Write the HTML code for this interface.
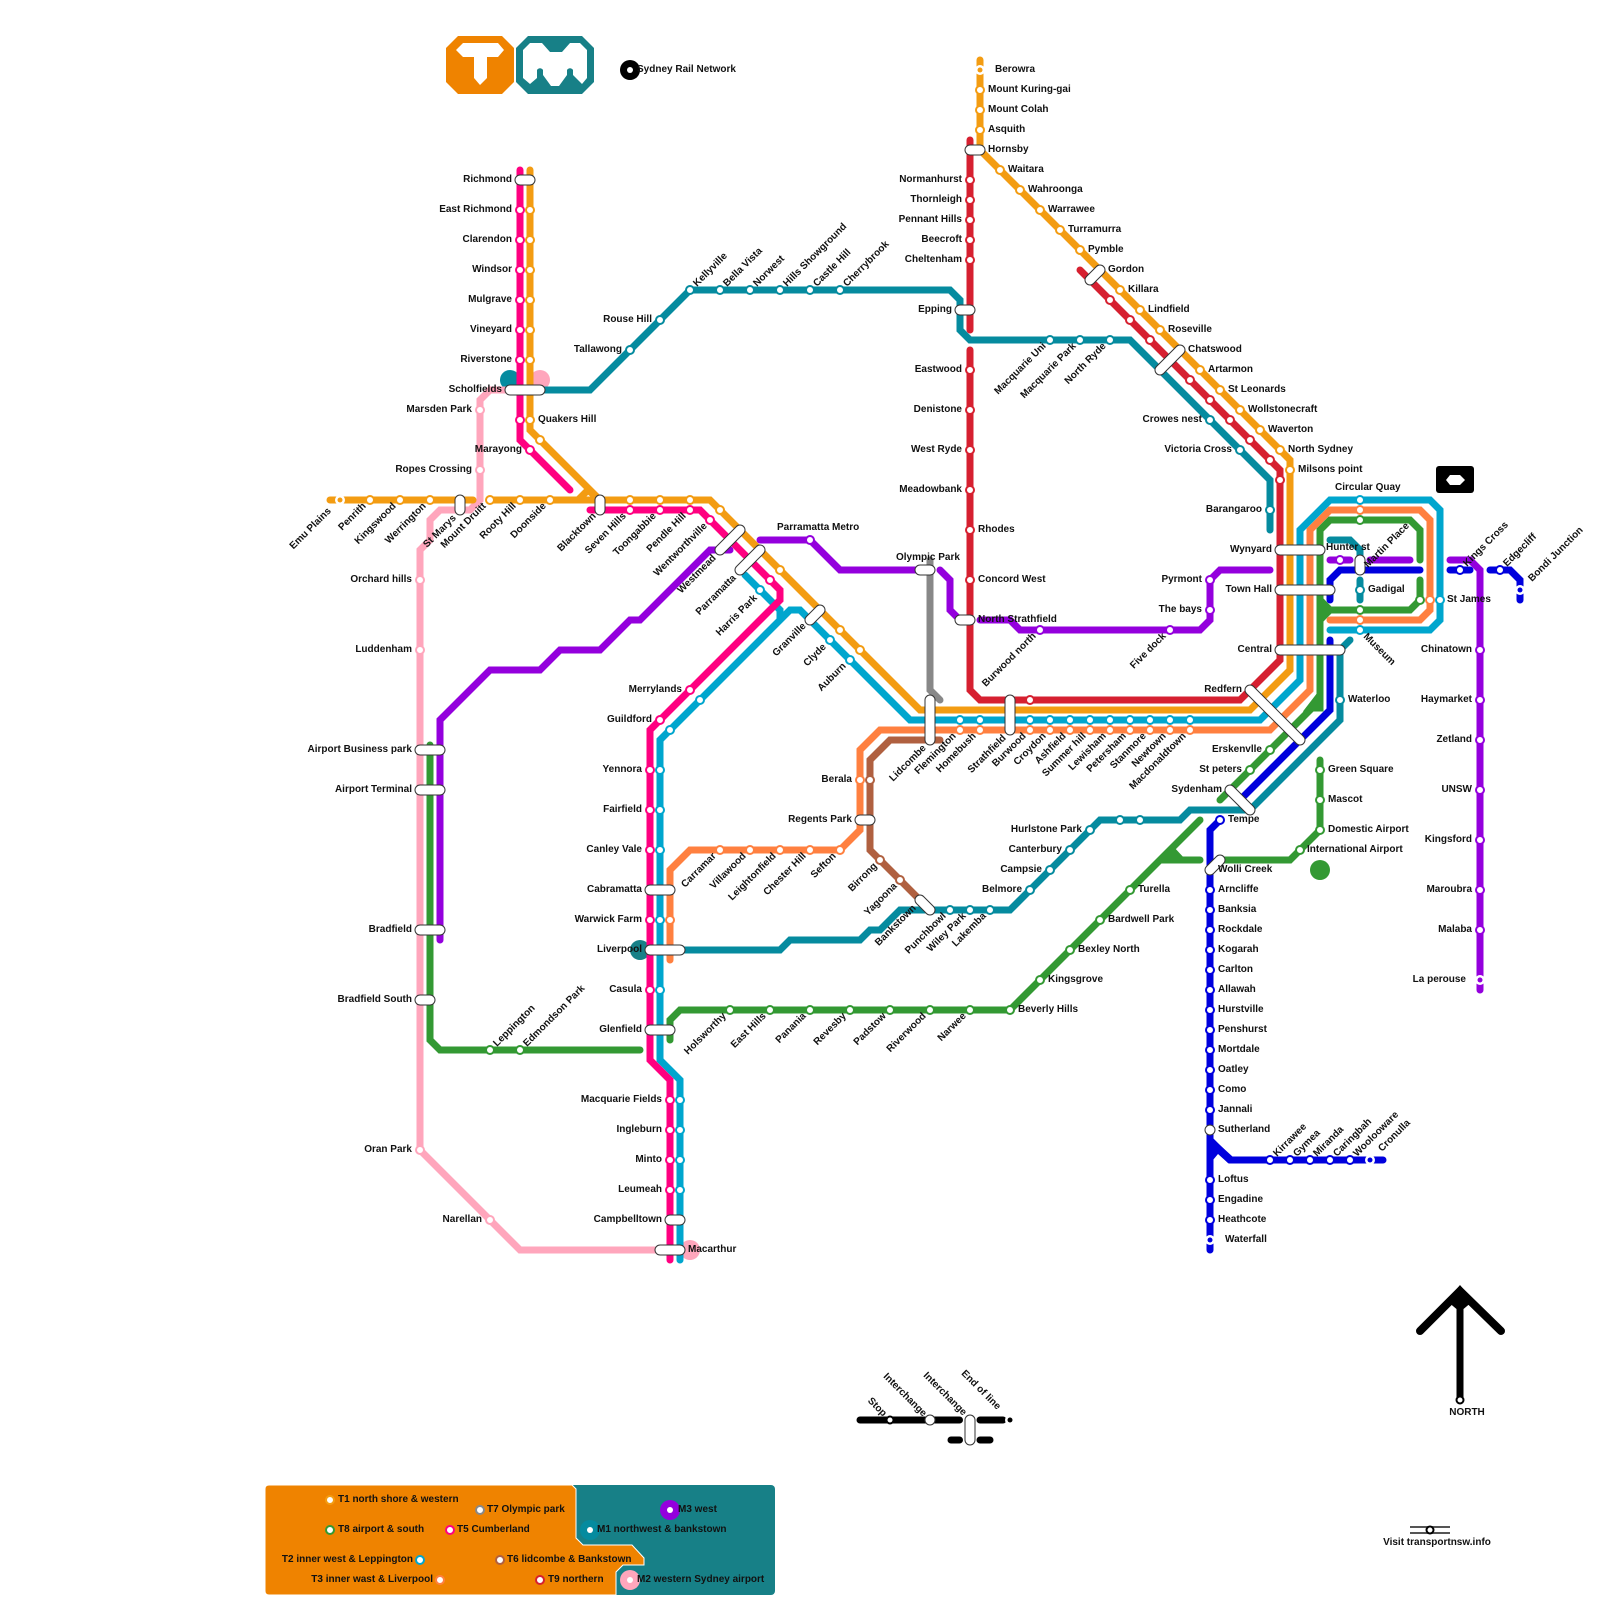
<!DOCTYPE html>
<html><head><meta charset="utf-8"><title>Sydney Rail Network</title>
<style>
html,body{margin:0;padding:0;background:#fff}
svg{display:block}
text{font:700 10px "Liberation Sans",sans-serif;fill:#111}
.l path{fill:none;stroke-width:7;stroke-linecap:round;stroke-linejoin:miter}
.s circle{r:4px;fill:#fff;stroke-width:2}
.e circle{r:5px;fill:#fff;stroke-width:0}
.d circle{r:2.5px;stroke-width:0}
</style></head><body>
<svg width="1600" height="1600" viewBox="0 0 1600 1600" xmlns="http://www.w3.org/2000/svg">
<rect width="1600" height="1600" fill="#fff"/>
<!-- logos -->
<path d="M458,36H502L514,48V82L502,94H458L446,82V48Z" fill="#ef8300"/>
<path d="M456,50L463,43H498L504,50L498,57H487V78L480,85L474,78V57H463Z" fill="#fff"/>
<path d="M528,36H582L594,48V82L582,94H528L516,82V48Z" fill="#178087"/>
<path d="M523,50L530,43H542L550,52H562L570,43H580L587,50V78L582,84L573,75V70A3.5,3.5 0 0 0 567,70V75L559,86H551L543,75V70A3.5,3.5 0 0 0 537,70V78L530,84L523,78Z" fill="#fff"/>
<circle cx="630" cy="70" r="10" fill="#000"/><circle cx="630" cy="70" r="3" fill="#fff"/>
<text x="637" y="72">Sydney Rail Network</text>
<rect x="1436" y="466" width="38" height="27" rx="3" fill="#000"/>
<path d="M1446,480L1450,475H1460L1465,480L1460,485H1450Z" fill="#fff"/>
<!-- big dots -->
<circle cx="510" cy="380" r="10" fill="#058b9f"/>
<circle cx="540" cy="380" r="10" fill="#ffa6bc"/>
<circle cx="640" cy="950" r="10" fill="#178087"/>
<circle cx="690" cy="1250" r="10" fill="#ffa6bc"/>
<circle cx="1320" cy="870" r="10" fill="#339933"/>
<!-- lines -->
<g class="l">
<g stroke="#ffa6bc"><path d="M510,390H490L480,400V500L470,510H440L430,520V540L420,550V1150L520,1250H680"/></g>
<g stroke="#888888"><path d="M930,560V690L940,700"/></g>
<g stroke="#9400dd">
<path d="M440,940V720L490,670H540L560,650H600L630,620H640L710,550H730"/>
<path d="M760,540H810L840,570H920"/><path d="M940,570L950,580V610L960,620"/>
<path d="M980,620H1010L1020,630H1200L1210,620V580L1220,570H1270"/>
<path d="M1330,560H1350"/><path d="M1370,560H1410"/><path d="M1450,560H1470L1480,570V990"/>
</g>
<g stroke="#339933">
<path d="M430,745V1040L440,1050H640"/>
<path d="M670,1040V1020L680,1010H1010L1200,820"/>
<path d="M1162,860H1200"/>
<path d="M1220,860H1290L1320,830V760"/>
<path d="M1420,560V530L1410,520H1330L1320,530V700L1220,800"/>
<path d="M1420,580V600L1410,610H1320"/>
<path d="M1320,600L1330,610L1320,620Z" fill="#339933"/>
<path d="M1320,695V708H1310Z" fill="#339933"/>
</g>
<g stroke="#058b9f">
<path d="M540,390H590L690,290H950L960,300V330L970,340H1130L1270,480V530"/>
<path d="M680,950H780L790,940H860L870,930H880L900,910H1010L1100,820H1180L1190,810H1250L1340,720V650L1350,640"/>
<path d="M1330,540H1350L1360,550V560"/><path d="M1360,580V600"/>
</g>
<g stroke="#0000dd">
<path d="M1330,600V580L1340,570H1420"/><path d="M1450,570H1470"/>
<path d="M1490,570H1510L1520,580V600"/>
<path d="M1330,640V710L1240,800"/>
<path d="M1220,820L1210,830V1250"/>
<path d="M1210,1140L1230,1160H1383"/>
</g>
<g stroke="#b06040"><path d="M940,740H890L870,760V850L925,905"/></g>
<g stroke="#ff8040"><path d="M670,960V870L690,850H840L860,830V750L880,730H1270L1310,690V530L1330,510H1420L1430,520V610L1420,620H1330"/></g>
<g stroke="#00a6ce">
<path d="M680,1260V1080L660,1060V740L790,610H800L910,720H1260L1300,680V530L1330,500H1430L1440,510V620L1430,630H1330"/>
<path d="M745,575L780,610V618"/>
</g>
<g stroke="#d62030">
<path d="M970,140V330"/><path d="M970,350V690L980,700H1240L1280,660V470L1080,270"/>
</g>
<g stroke="#f39c12">
<path d="M330,500H473"/>
<path d="M490,500H710L920,710H1250L1290,670V460L980,150V60"/>
<path d="M530,170V430L600,500"/>
<path d="M588,490L600,500H578Z" fill="#f39c12"/>
</g>
<g stroke="#ff0080">
<path d="M520,170V440L570,490"/>
<path d="M590,510H700L780,590V600L650,730V1060L670,1080V1260"/>
</g>
</g>
<!-- junction fills -->
<path d="M1165,856L1172,845L1186,860V863H1160Z" fill="#339933"/>
<path d="M1210,1136L1233,1157V1163H1228L1218,1154L1213,1160H1208V1136Z" fill="#0000dd"/>
<!-- stations -->
<g class="s">
<g stroke="#ffa6bc"><circle cx="480" cy="410"/><circle cx="480" cy="470"/><circle cx="420" cy="580"/><circle cx="420" cy="650"/><circle cx="420" cy="1150"/><circle cx="490" cy="1220"/></g>
<g stroke="#ff0080"><circle cx="520" cy="210"/><circle cx="520" cy="240"/><circle cx="520" cy="270"/><circle cx="520" cy="300"/><circle cx="520" cy="330"/><circle cx="520" cy="360"/><circle cx="520" cy="420"/><circle cx="530" cy="450"/><circle cx="630" cy="510"/><circle cx="660" cy="510"/><circle cx="690" cy="510"/><circle cx="710" cy="520"/><circle cx="770" cy="580"/><circle cx="690" cy="690"/><circle cx="660" cy="720"/><circle cx="650" cy="770"/><circle cx="650" cy="810"/><circle cx="650" cy="850"/><circle cx="650" cy="920"/><circle cx="650" cy="990"/><circle cx="670" cy="1100"/><circle cx="670" cy="1130"/><circle cx="670" cy="1160"/><circle cx="670" cy="1190"/></g>
<g stroke="#f39c12"><circle cx="530" cy="210"/><circle cx="530" cy="240"/><circle cx="530" cy="270"/><circle cx="530" cy="300"/><circle cx="530" cy="330"/><circle cx="530" cy="360"/><circle cx="530" cy="420"/><circle cx="540" cy="440"/><circle cx="370" cy="500"/><circle cx="400" cy="500"/><circle cx="430" cy="500"/><circle cx="490" cy="500"/><circle cx="520" cy="500"/><circle cx="550" cy="500"/><circle cx="630" cy="500"/><circle cx="660" cy="500"/><circle cx="690" cy="500"/><circle cx="720" cy="510"/><circle cx="780" cy="570"/><circle cx="840" cy="630"/><circle cx="860" cy="650"/><circle cx="980" cy="90"/><circle cx="980" cy="110"/><circle cx="980" cy="130"/><circle cx="1000" cy="170"/><circle cx="1020" cy="190"/><circle cx="1040" cy="210"/><circle cx="1060" cy="230"/><circle cx="1080" cy="250"/><circle cx="1120" cy="290"/><circle cx="1140" cy="310"/><circle cx="1160" cy="330"/><circle cx="1200" cy="370"/><circle cx="1220" cy="390"/><circle cx="1240" cy="410"/><circle cx="1260" cy="430"/><circle cx="1280" cy="450"/><circle cx="1290" cy="470"/></g>
<g stroke="#d62030"><circle cx="970" cy="180"/><circle cx="970" cy="200"/><circle cx="970" cy="220"/><circle cx="970" cy="240"/><circle cx="970" cy="260"/><circle cx="970" cy="370"/><circle cx="970" cy="410"/><circle cx="970" cy="450"/><circle cx="970" cy="490"/><circle cx="970" cy="530"/><circle cx="970" cy="580"/><circle cx="1030" cy="700"/><circle cx="1110" cy="300"/><circle cx="1130" cy="320"/><circle cx="1150" cy="340"/><circle cx="1190" cy="380"/><circle cx="1210" cy="400"/><circle cx="1230" cy="420"/><circle cx="1250" cy="440"/><circle cx="1270" cy="460"/><circle cx="1280" cy="480"/></g>
<g stroke="#00a6ce"><circle cx="700" cy="700"/><circle cx="670" cy="730"/><circle cx="660" cy="770"/><circle cx="660" cy="810"/><circle cx="660" cy="850"/><circle cx="660" cy="920"/><circle cx="660" cy="990"/><circle cx="680" cy="1100"/><circle cx="680" cy="1130"/><circle cx="680" cy="1160"/><circle cx="680" cy="1190"/><circle cx="760" cy="590"/><circle cx="830" cy="640"/><circle cx="850" cy="660"/><circle cx="960" cy="720"/><circle cx="980" cy="720"/><circle cx="1030" cy="720"/><circle cx="1050" cy="720"/><circle cx="1070" cy="720"/><circle cx="1090" cy="720"/><circle cx="1110" cy="720"/><circle cx="1130" cy="720"/><circle cx="1150" cy="720"/><circle cx="1170" cy="720"/><circle cx="1190" cy="720"/><circle cx="1360" cy="500"/><circle cx="1360" cy="630"/><circle cx="1440" cy="600"/></g>
<g stroke="#ff8040"><circle cx="720" cy="850"/><circle cx="750" cy="850"/><circle cx="780" cy="850"/><circle cx="810" cy="850"/><circle cx="840" cy="850"/><circle cx="860" cy="780"/><circle cx="670" cy="920"/><circle cx="960" cy="730"/><circle cx="980" cy="730"/><circle cx="1030" cy="730"/><circle cx="1050" cy="730"/><circle cx="1070" cy="730"/><circle cx="1090" cy="730"/><circle cx="1110" cy="730"/><circle cx="1130" cy="730"/><circle cx="1150" cy="730"/><circle cx="1170" cy="730"/><circle cx="1190" cy="730"/><circle cx="1360" cy="510"/><circle cx="1360" cy="620"/><circle cx="1430" cy="600"/></g>
<g stroke="#b06040"><circle cx="870" cy="780"/><circle cx="880" cy="860"/><circle cx="900" cy="880"/></g>
<g stroke="#339933"><circle cx="1360" cy="520"/><circle cx="1360" cy="610"/><circle cx="1420" cy="600"/><circle cx="1270" cy="750"/><circle cx="1250" cy="770"/><circle cx="1320" cy="770"/><circle cx="1320" cy="800"/><circle cx="1320" cy="830"/><circle cx="1300" cy="850"/><circle cx="1130" cy="890"/><circle cx="1100" cy="920"/><circle cx="1070" cy="950"/><circle cx="1040" cy="980"/><circle cx="1010" cy="1010"/><circle cx="970" cy="1010"/><circle cx="930" cy="1010"/><circle cx="890" cy="1010"/><circle cx="850" cy="1010"/><circle cx="810" cy="1010"/><circle cx="770" cy="1010"/><circle cx="730" cy="1010"/><circle cx="490" cy="1050"/><circle cx="520" cy="1050"/></g>
<g stroke="#9400dd"><circle cx="810" cy="540"/><circle cx="1040" cy="630"/><circle cx="1170" cy="630"/><circle cx="1210" cy="610"/><circle cx="1210" cy="580"/><circle cx="1340" cy="560"/><circle cx="1480" cy="650"/><circle cx="1480" cy="700"/><circle cx="1480" cy="740"/><circle cx="1480" cy="790"/><circle cx="1480" cy="840"/><circle cx="1480" cy="890"/><circle cx="1480" cy="930"/></g>
<g stroke="#0000dd"><circle cx="1460" cy="570"/><circle cx="1500" cy="570"/><circle cx="1220" cy="820"/><circle cx="1210" cy="890"/><circle cx="1210" cy="910"/><circle cx="1210" cy="930"/><circle cx="1210" cy="950"/><circle cx="1210" cy="970"/><circle cx="1210" cy="990"/><circle cx="1210" cy="1010"/><circle cx="1210" cy="1030"/><circle cx="1210" cy="1050"/><circle cx="1210" cy="1070"/><circle cx="1210" cy="1090"/><circle cx="1210" cy="1110"/><circle cx="1270" cy="1160"/><circle cx="1290" cy="1160"/><circle cx="1310" cy="1160"/><circle cx="1330" cy="1160"/><circle cx="1350" cy="1160"/><circle cx="1210" cy="1180"/><circle cx="1210" cy="1200"/><circle cx="1210" cy="1220"/></g>
<g stroke="#058b9f"><circle cx="690" cy="290"/><circle cx="720" cy="290"/><circle cx="750" cy="290"/><circle cx="780" cy="290"/><circle cx="810" cy="290"/><circle cx="840" cy="290"/><circle cx="660" cy="320"/><circle cx="630" cy="350"/><circle cx="1050" cy="340"/><circle cx="1080" cy="340"/><circle cx="1110" cy="340"/><circle cx="1210" cy="420"/><circle cx="1240" cy="450"/><circle cx="1270" cy="510"/><circle cx="1360" cy="590"/><circle cx="1340" cy="700"/><circle cx="1120" cy="820"/><circle cx="1140" cy="820"/><circle cx="1090" cy="830"/><circle cx="1070" cy="850"/><circle cx="1050" cy="870"/><circle cx="1030" cy="890"/><circle cx="950" cy="910"/><circle cx="970" cy="910"/><circle cx="990" cy="910"/></g>
</g>
<!-- end stations -->
<g class="e"><circle cx="340" cy="500"/><circle cx="980" cy="70"/><circle cx="1480" cy="980"/><circle cx="1520" cy="590"/><circle cx="1370" cy="1160"/><circle cx="1210" cy="1240"/></g>
<g class="d"><circle cx="340" cy="500" fill="#f39c12"/><circle cx="980" cy="70" fill="#f39c12"/><circle cx="1480" cy="980" fill="#9400dd"/><circle cx="1520" cy="590" fill="#0000dd"/><circle cx="1370" cy="1160" fill="#0000dd"/><circle cx="1210" cy="1240" fill="#0000dd"/></g>
<circle cx="1210" cy="1130" r="5" fill="#fff" stroke="#333" stroke-width="1"/>
<!-- interchanges -->
<defs><g id="caps" fill="none" stroke-linecap="round">
<path d="M520,180H530"/><path d="M510,390H540"/><path d="M460,500V510"/><path d="M600,500V510"/>
<path d="M720,550L740,530"/><path d="M740,570L760,550"/><path d="M810,620L820,610"/>
<path d="M930,700V740"/><path d="M1010,700V730"/><path d="M860,820H870"/><path d="M920,570H930"/><path d="M960,620H970"/>
<path d="M970,150H980"/><path d="M960,310H970"/><path d="M1090,280L1100,270"/><path d="M1160,370L1180,350"/>
<path d="M1280,550H1320"/><path d="M1280,590H1330"/><path d="M1280,650H1340"/><path d="M1250,690L1300,740"/>
<path d="M1230,790L1250,810"/><path d="M1210,870L1220,860"/><path d="M1360,560V570"/>
<path d="M420,750H440"/><path d="M420,790H440"/><path d="M420,930H440"/><path d="M420,1000H430"/>
<path d="M650,890H670"/><path d="M650,950H680"/><path d="M650,1030H670"/><path d="M670,1220H680"/><path d="M660,1250H680"/>
<path d="M920,900L930,910"/>
</g></defs>
<use href="#caps" stroke="#333" stroke-width="11"/>
<use href="#caps" stroke="#fff" stroke-width="9"/>
<!-- labels: right aligned -->
<g text-anchor="end" transform="translate(0,-1)">
<text x="512" y="183">Richmond</text><text x="512" y="213">East Richmond</text><text x="512" y="243">Clarendon</text><text x="512" y="273">Windsor</text><text x="512" y="303">Mulgrave</text><text x="512" y="333">Vineyard</text><text x="512" y="363">Riverstone</text>
<text x="502" y="393">Scholfields</text><text x="472" y="413">Marsden Park</text><text x="522" y="453">Marayong</text><text x="472" y="473">Ropes Crossing</text>
<text x="652" y="323">Rouse Hill</text><text x="622" y="353">Tallawong</text>
<text x="412" y="583">Orchard hills</text><text x="412" y="653">Luddenham</text><text x="412" y="753">Airport Business park</text><text x="412" y="793">Airport Terminal</text><text x="412" y="933">Bradfield</text><text x="412" y="1003">Bradfield South</text><text x="412" y="1153">Oran Park</text><text x="482" y="1223">Narellan</text>
<text x="682" y="693">Merrylands</text><text x="652" y="723">Guildford</text>
<text x="642" y="773">Yennora</text><text x="642" y="813">Fairfield</text><text x="642" y="853">Canley Vale</text><text x="642" y="893">Cabramatta</text><text x="642" y="923">Warwick Farm</text><text x="642" y="953">Liverpool</text><text x="642" y="993">Casula</text><text x="642" y="1033">Glenfield</text>
<text x="662" y="1103">Macquarie Fields</text><text x="662" y="1133">Ingleburn</text><text x="662" y="1163">Minto</text><text x="662" y="1193">Leumeah</text><text x="662" y="1223">Campbelltown</text>
<text x="852" y="783">Berala</text><text x="852" y="823">Regents Park</text>
<text x="962" y="183">Normanhurst</text><text x="962" y="203">Thornleigh</text><text x="962" y="223">Pennant Hills</text><text x="962" y="243">Beecroft</text><text x="962" y="263">Cheltenham</text><text x="952" y="313">Epping</text><text x="962" y="373">Eastwood</text><text x="962" y="413">Denistone</text><text x="962" y="453">West Ryde</text><text x="962" y="493">Meadowbank</text>
<text x="1202" y="423">Crowes nest</text><text x="1232" y="453">Victoria Cross</text><text x="1262" y="513">Barangaroo</text>
<text x="1272" y="553">Wynyard</text><text x="1272" y="593">Town Hall</text><text x="1272" y="653">Central</text>
<text x="1202" y="583">Pyrmont</text><text x="1202" y="613">The bays</text>
<text x="1242" y="693">Redfern</text><text x="1262" y="753">Erskenvlle</text><text x="1242" y="773">St peters</text><text x="1222" y="793">Sydenham</text>
<text x="1082" y="833">Hurlstone Park</text><text x="1062" y="853">Canterbury</text><text x="1042" y="873">Campsie</text><text x="1022" y="893">Belmore</text>
<text x="1472" y="653">Chinatown</text><text x="1472" y="703">Haymarket</text><text x="1472" y="743">Zetland</text><text x="1472" y="793">UNSW</text><text x="1472" y="843">Kingsford</text><text x="1472" y="893">Maroubra</text><text x="1472" y="933">Malaba</text><text x="1466" y="983">La perouse</text>
</g>
<!-- labels: left aligned -->
<g transform="translate(0,-1)">
<text x="538" y="423">Quakers Hill</text><text x="688" y="1253">Macarthur</text>
<text x="978" y="533">Rhodes</text><text x="978" y="583">Concord West</text><text x="978" y="623">North Strathfield</text><text x="896" y="561">Olympic Park</text><text x="777" y="531">Parramatta Metro</text>
<text x="995" y="73">Berowra</text><text x="988" y="93">Mount Kuring-gai</text><text x="988" y="113">Mount Colah</text><text x="988" y="133">Asquith</text><text x="988" y="153">Hornsby</text><text x="1008" y="173">Waitara</text><text x="1028" y="193">Wahroonga</text><text x="1048" y="213">Warrawee</text><text x="1068" y="233">Turramurra</text><text x="1088" y="253">Pymble</text><text x="1108" y="273">Gordon</text><text x="1128" y="293">Killara</text><text x="1148" y="313">Lindfield</text><text x="1168" y="333">Roseville</text><text x="1188" y="353">Chatswood</text><text x="1208" y="373">Artarmon</text><text x="1228" y="393">St Leonards</text><text x="1248" y="413">Wollstonecraft</text><text x="1268" y="433">Waverton</text><text x="1288" y="453">North Sydney</text><text x="1298" y="473">Milsons point</text>
<text x="1335" y="491">Circular Quay</text><text x="1326" y="551">Hunter st</text><text x="1368" y="593">Gadigal</text><text x="1447" y="603">St James</text><text x="1348" y="703">Waterloo</text>
<text x="1228" y="823">Tempe</text><text x="1328" y="773">Green Square</text><text x="1328" y="803">Mascot</text><text x="1328" y="833">Domestic Airport</text><text x="1307" y="853">International Airport</text><text x="1218" y="873">Wolli Creek</text>
<text x="1138" y="893">Turella</text><text x="1108" y="923">Bardwell Park</text><text x="1078" y="953">Bexley North</text><text x="1048" y="983">Kingsgrove</text><text x="1018" y="1013">Beverly Hills</text>
<text x="1218" y="893">Arncliffe</text><text x="1218" y="913">Banksia</text><text x="1218" y="933">Rockdale</text><text x="1218" y="953">Kogarah</text><text x="1218" y="973">Carlton</text><text x="1218" y="993">Allawah</text><text x="1218" y="1013">Hurstville</text><text x="1218" y="1033">Penshurst</text><text x="1218" y="1053">Mortdale</text><text x="1218" y="1073">Oatley</text><text x="1218" y="1093">Como</text><text x="1218" y="1113">Jannali</text><text x="1218" y="1133">Sutherland</text><text x="1218" y="1183">Loftus</text><text x="1218" y="1203">Engadine</text><text x="1218" y="1223">Heathcote</text><text x="1225" y="1243">Waterfall</text>
</g>
<!-- rotated up-right -->
<g>
<text x="697" y="287" transform="rotate(-45 697 287)">Kellyville</text><text x="727" y="287" transform="rotate(-45 727 287)">Bella Vista</text><text x="757" y="287" transform="rotate(-45 757 287)">Norwest</text><text x="787" y="287" transform="rotate(-45 787 287)">Hills Showground</text><text x="817" y="287" transform="rotate(-45 817 287)">Castle Hill</text><text x="847" y="287" transform="rotate(-45 847 287)">Cherrybrook</text>
<text x="1467" y="567" transform="rotate(-45 1467 567)">Kings Cross</text><text x="1507" y="567" transform="rotate(-45 1507 567)">Edgecliff</text><text x="1532" y="582" transform="rotate(-45 1532 582)">Bondi Junction</text>
<text x="1277" y="1157" transform="rotate(-45 1277 1157)">Kirrawee</text><text x="1297" y="1157" transform="rotate(-45 1297 1157)">Gymea</text><text x="1317" y="1157" transform="rotate(-45 1317 1157)">Miranda</text><text x="1337" y="1157" transform="rotate(-45 1337 1157)">Caringbah</text><text x="1357" y="1157" transform="rotate(-45 1357 1157)">Woolooware</text><text x="1382" y="1152" transform="rotate(-45 1382 1152)">Cronulla</text>
<text x="497" y="1047" transform="rotate(-45 497 1047)">Leppington</text><text x="527" y="1047" transform="rotate(-45 527 1047)">Edmondson Park</text>
<text x="1368" y="568" transform="rotate(-45 1368 568)">Martin Place</text>
<text x="1363" y="637" transform="rotate(45 1363 637)">Museum</text>
</g>
<!-- rotated below-left -->
<g text-anchor="end" transform="translate(-0.5,-0.5)">
<text x="332" y="512" transform="rotate(-45 332 512)">Emu Plains</text><text x="367" y="507" transform="rotate(-45 367 507)">Penrith</text><text x="397" y="507" transform="rotate(-45 397 507)">Kingswood</text><text x="427" y="507" transform="rotate(-45 427 507)">Werrington</text><text x="457" y="519" transform="rotate(-45 457 519)">St Marys</text><text x="487" y="507" transform="rotate(-45 487 507)">Mount Druitt</text><text x="517" y="507" transform="rotate(-45 517 507)">Rooty Hill</text><text x="547" y="507" transform="rotate(-45 547 507)">Doonside</text><text x="597" y="517" transform="rotate(-45 597 517)">Blacktown</text>
<text x="627" y="517" transform="rotate(-45 627 517)">Seven Hills</text><text x="657" y="517" transform="rotate(-45 657 517)">Toongabbie</text><text x="687" y="517" transform="rotate(-45 687 517)">Pendle Hill</text><text x="708" y="527" transform="rotate(-45 708 527)">Wentworthville</text><text x="717" y="559" transform="rotate(-45 717 559)">Westmead</text><text x="737" y="579" transform="rotate(-45 737 579)">Parramatta</text><text x="758" y="599" transform="rotate(-45 758 599)">Harris Park</text>
<text x="807" y="627" transform="rotate(-45 807 627)">Granville</text><text x="827" y="648" transform="rotate(-45 827 648)">Clyde</text><text x="847" y="667" transform="rotate(-45 847 667)">Auburn</text>
<text x="927" y="749" transform="rotate(-45 927 749)">Lidcombe</text><text x="957" y="737" transform="rotate(-45 957 737)">Flemington</text><text x="977" y="737" transform="rotate(-45 977 737)">Homebush</text><text x="1007" y="739" transform="rotate(-45 1007 739)">Strathfield</text><text x="1027" y="737" transform="rotate(-45 1027 737)">Burwood</text><text x="1047" y="737" transform="rotate(-45 1047 737)">Croydon</text><text x="1067" y="737" transform="rotate(-45 1067 737)">Ashfield</text><text x="1087" y="737" transform="rotate(-45 1087 737)">Summer hill</text><text x="1107" y="737" transform="rotate(-45 1107 737)">Lewisham</text><text x="1127" y="737" transform="rotate(-45 1127 737)">Petersham</text><text x="1147" y="737" transform="rotate(-45 1147 737)">Stanmore</text><text x="1167" y="737" transform="rotate(-45 1167 737)">Newtown</text><text x="1187" y="737" transform="rotate(-45 1187 737)">Macdonaldtown</text>
<text x="1037" y="637" transform="rotate(-45 1037 637)">Burwood north</text><text x="1167" y="637" transform="rotate(-45 1167 637)">Five dock</text>
<text x="1047" y="347" transform="rotate(-45 1047 347)">Macquarie Uni</text><text x="1077" y="347" transform="rotate(-45 1077 347)">Macquarie Park</text><text x="1107" y="347" transform="rotate(-45 1107 347)">North Ryde</text>
<text x="717" y="857" transform="rotate(-45 717 857)">Carramar</text><text x="747" y="857" transform="rotate(-45 747 857)">Villawood</text><text x="777" y="857" transform="rotate(-45 777 857)">Leightonfield</text><text x="807" y="857" transform="rotate(-45 807 857)">Chester Hill</text><text x="837" y="857" transform="rotate(-45 837 857)">Sefton</text>
<text x="878" y="867" transform="rotate(-45 878 867)">Birrong</text><text x="898" y="887" transform="rotate(-45 898 887)">Yagoona</text><text x="917" y="909" transform="rotate(-45 917 909)">Bankstown</text>
<text x="947" y="917" transform="rotate(-45 947 917)">Punchbowl</text><text x="967" y="917" transform="rotate(-45 967 917)">Wiley Park</text><text x="987" y="917" transform="rotate(-45 987 917)">Lakemba</text>
<text x="727" y="1017" transform="rotate(-45 727 1017)">Holsworthy</text><text x="767" y="1017" transform="rotate(-45 767 1017)">East Hills</text><text x="807" y="1017" transform="rotate(-45 807 1017)">Panania</text><text x="847" y="1017" transform="rotate(-45 847 1017)">Revesby</text><text x="887" y="1017" transform="rotate(-45 887 1017)">Padstow</text><text x="927" y="1017" transform="rotate(-45 927 1017)">Riverwood</text><text x="967" y="1017" transform="rotate(-45 967 1017)">Narwee</text>
</g>
<!-- key -->
<g fill="none" stroke="#000" stroke-width="7" stroke-linecap="round">
<path d="M860,1420H959.5"/><path d="M980,1420H1003"/><path d="M951,1440H959.5"/><path d="M980,1440H990"/>
</g>
<circle cx="890" cy="1420" r="3.5" fill="#fff" stroke="#000" stroke-width="2"/>
<circle cx="930" cy="1420" r="5" fill="#fff" stroke="#333" stroke-width="1"/>
<path d="M970,1420V1440" stroke="#333" stroke-width="11" stroke-linecap="round" fill="none"/>
<path d="M970,1420V1440" stroke="#fff" stroke-width="9" stroke-linecap="round" fill="none"/>
<circle cx="1010" cy="1420" r="5" fill="#fff"/><circle cx="1010" cy="1420" r="2.5" fill="#000"/>
<g text-anchor="end">
<text x="883" y="1417" transform="rotate(45 883 1417)">Stop</text>
<text x="923" y="1417" transform="rotate(45 923 1417)">Interchange</text>
<text x="963" y="1416" transform="rotate(45 963 1416)">Interchange</text>
<text x="997" y="1410" transform="rotate(45 997 1410)">End of line</text>
</g>
<!-- north -->
<path d="M1420,1331L1460,1291L1501,1331" fill="none" stroke="#000" stroke-width="8" stroke-linecap="round"/>
<path d="M1460,1285L1473,1301L1460,1312L1447,1301Z" fill="#000"/>
<path d="M1460,1295V1400" stroke="#000" stroke-width="7" fill="none"/>
<circle cx="1460" cy="1400" r="3.5" fill="#fff" stroke="#000" stroke-width="2"/>
<text x="1467" y="1415" text-anchor="middle">NORTH</text>
<path d="M1410,1527H1450M1410,1533H1450" stroke="#555" stroke-width="2" fill="none"/>
<circle cx="1430" cy="1530" r="3.5" fill="#fff" stroke="#000" stroke-width="2"/>
<text x="1437" y="1545" text-anchor="middle">Visit transportnsw.info</text>
<!-- legend -->
<rect x="570" y="1485" width="205" height="110" rx="4" fill="#178087"/>
<path d="M269,1485H572L576,1489V1538L583,1545H632L644,1558V1565H623L616,1572V1595H269Q265,1595 265,1591V1489Q265,1485 269,1485Z" fill="#ef8300" stroke="#fff" stroke-width="1"/>
<g class="s">
<circle cx="330" cy="1500" stroke="#f39c12"/><circle cx="480" cy="1510" stroke="#888"/><circle cx="330" cy="1530" stroke="#339933"/><circle cx="450" cy="1530" stroke="#ff0080"/><circle cx="420" cy="1560" stroke="#00a6ce"/><circle cx="500" cy="1560" stroke="#b06040"/><circle cx="440" cy="1580" stroke="#ff8040"/><circle cx="540" cy="1580" stroke="#d62030"/>
</g>
<circle cx="670" cy="1510" r="10" fill="#9400dd"/><circle cx="670" cy="1510" r="3" fill="#fff"/>
<circle cx="590" cy="1530" r="10" fill="#058b9f"/><circle cx="590" cy="1530" r="3" fill="#fff"/>
<circle cx="630" cy="1580" r="10" fill="#ffa6bc"/><circle cx="630" cy="1580" r="3" fill="#fff"/>
<g transform="translate(0,-1)">
<text x="338" y="1503">T1 north shore &amp; western</text>
<text x="487" y="1513">T7 Olympic park</text>
<text x="338" y="1533">T8 airport &amp; south</text>
<text x="457" y="1533">T5 Cumberland</text>
<text x="413" y="1563" text-anchor="end">T2 inner west &amp; Leppington</text>
<text x="507" y="1563">T6 lidcombe &amp; Bankstown</text>
<text x="433" y="1583" text-anchor="end">T3 inner wast &amp; Liverpool</text>
<text x="548" y="1583">T9 northern</text>
<text x="678" y="1513">M3 west</text>
<text x="597" y="1533">M1 northwest &amp; bankstown</text>
<text x="637" y="1583">M2 western Sydney airport</text>
</g>
</svg>
</body></html>
